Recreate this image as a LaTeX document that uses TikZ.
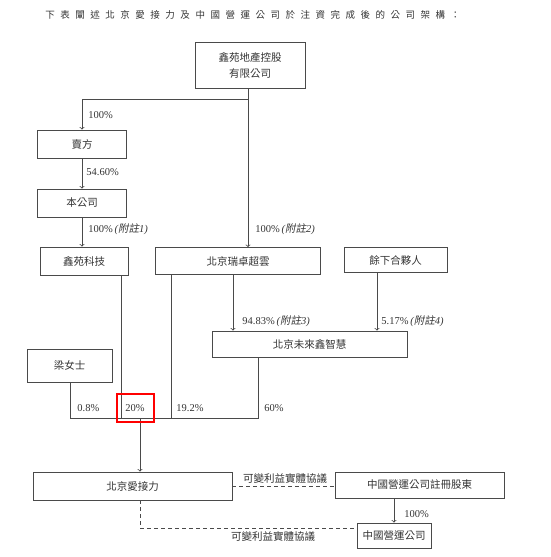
\documentclass[tikz,border=0pt]{standalone}
\usepackage{fontspec}
\setmainfont{Noto Sans CJK TC}
\newfontfamily\lat{Liberation Serif}
\newfontfamily\cjksl[FakeSlant=0.2]{Noto Sans CJK TC}
\newfontfamily\ttlfont[LetterSpace=58]{Noto Sans CJK TC}
\definecolor{ln}{HTML}{4A4A4A}
\definecolor{tx}{HTML}{333333}
\newcommand{\pct}[1]{{\lat #1\%}}
\newcommand{\fz}[1]{{\lat\itshape\,(}{\cjksl 附註}{\lat\itshape #1)}}
\tikzset{box/.style={draw=ln, line width=0.8pt, inner sep=0pt, align=center},
  lbl/.style={anchor=west, inner sep=0pt, font=\fontsize{10.5}{12}\selectfont}}

\begin{document}
\begin{tikzpicture}[x=1pt, y=-1pt, >=to, color=ln, line width=0.8pt,
  every node/.style={text=tx, font=\fontsize{10.5}{16}\selectfont}]
\useasboundingbox (0,0) rectangle (550,557);
\node[anchor=west, inner sep=0pt] (ttl) at (45,15) {\ttlfont\fontsize{9.5}{12}\selectfont 下表闡述北京愛接力及中國營運公司於注資完成後的公司架構：};

\node[box, minimum width=110, minimum height=46] (hold) at (250,65) {鑫苑地產控股\\有限公司};
\node[box, minimum width=89, minimum height=28] (sell) at (82,144) {賣方};
\node[box, minimum width=89, minimum height=28] (co) at (82,203) {本公司};
\node[box, minimum width=88, minimum height=28] (tech) at (84,261) {鑫苑科技};
\node[box, minimum width=165, minimum height=27] (rz) at (238,261) {北京瑞卓超雲};
\node[box, minimum width=103, minimum height=25] (rest) at (395.5,260) {餘下合夥人};
\node[box, minimum width=195, minimum height=26] (wl) at (309.5,344) {北京未來鑫智慧};
\node[box, minimum width=85, minimum height=33] (liang) at (69.5,365.5) {梁女士};
\node[box, minimum width=199, minimum height=28] (ajl) at (132.5,486) {北京愛接力};
\node[box, minimum width=169, minimum height=26] (reg) at (419.5,485) {中國營運公司註冊股東};
\node[box, minimum width=74, minimum height=25] (op) at (394,535.5) {中國營運公司};

\coordinate (br) at (248,99);
\coordinate (c1) at (233,300); \coordinate (c2) at (377,300);
\coordinate (b1) at (70,418);  \coordinate (b2) at (121,418);
\coordinate (b3) at (171,418); \coordinate (b4) at (258,418);
\coordinate (j) at (140,418);  \coordinate (d) at (357,528);

\draw[->] (br |- hold.south) -- (br |- rz.north);
\draw[->] (br) -| (sell.north);
\draw[->] (sell) -- (co);
\draw[->] (co.south) -- (co.south |- tech.north);
\draw[->] (c1 |- rz.south) -- (c1 |- wl.north);
\draw[->] (c2 |- rest.south) -- (c2 |- wl.north);
\draw (b1 |- liang.south) -- (b1) -- (b4) -- (b4 |- wl.south);
\draw (b2 |- tech.south) -- (b2);
\draw (b3 |- rz.south) -- (b3);
\draw[->] (j) -- (j |- ajl.north);
\draw[->] (op.north |- reg.south) -- (op.north);
\draw[dashed, dash pattern=on 4pt off 3pt] (ajl.east) -- (ajl.east -| reg.west);
\draw[dashed, dash pattern=on 4pt off 3pt] (j |- ajl.south) |- (d);

\node[lbl] (l1) at (88,115) {\pct{100}};
\node[lbl] (l2) at (86,172) {\pct{54.60}};
\node[lbl] (l3) at (88,229) {\pct{100}\fz{1}};
\node[lbl] (l4) at (255,229) {\pct{100}\fz{2}};
\node[lbl] (l5) at (242,321) {\pct{94.83}\fz{3}};
\node[lbl] (l6) at (381,321) {\pct{5.17}\fz{4}};
\node[lbl] (l7) at (77,408) {\pct{0.8}};
\node[lbl] (l8) at (125,408) {\pct{20}};
\node[lbl] (l9) at (176,408) {\pct{19.2}};
\node[lbl] (l10) at (264,408) {\pct{60}};
\node[lbl] (l11) at (404,514) {\pct{100}};
\node[inner sep=0pt] (v1) at (285,479) {可變利益實體協議};
\node[inner sep=0pt] (v2) at (273,537) {可變利益實體協議};

\draw[red, line width=1.6pt] (117,394) rectangle (154,422);
\end{tikzpicture}
\end{document}
